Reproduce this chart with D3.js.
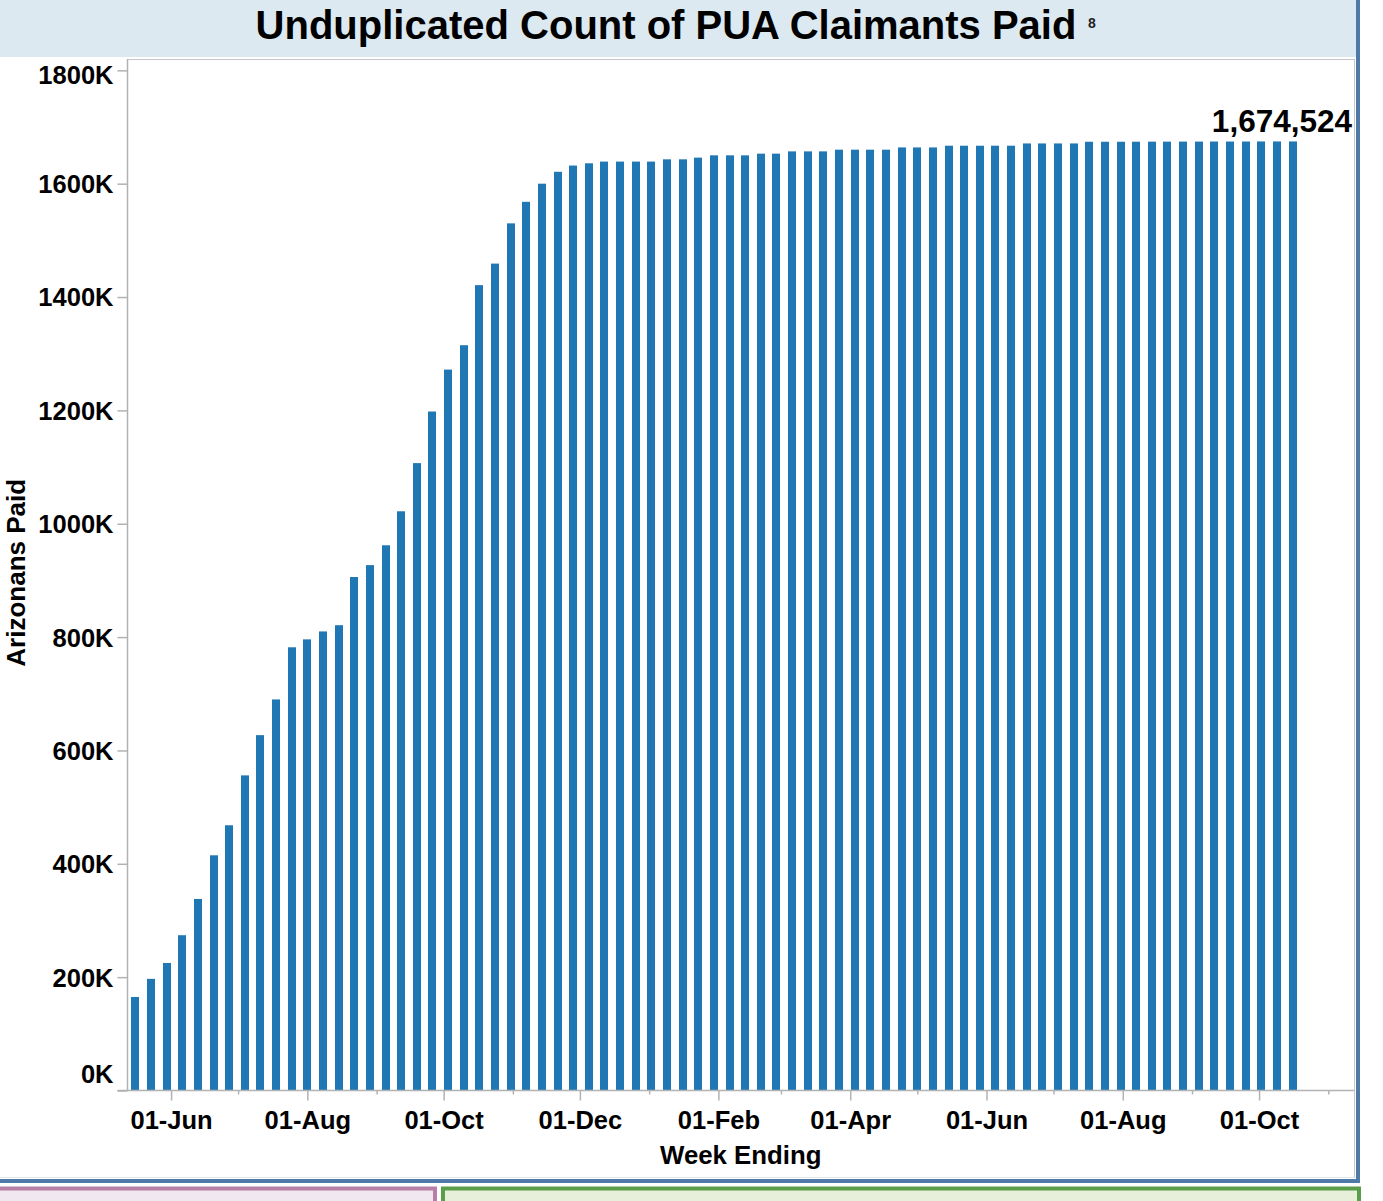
<!DOCTYPE html>
<html>
<head>
<meta charset="utf-8">
<script src="https://cdn.jsdelivr.net/npm/d3@7"></script>
<style>
  html, body { margin: 0; padding: 0; background: #fff; }
  svg { display: block; font-family: "Liberation Sans", Arial, sans-serif; }
</style>
</head>
<body>
<svg id="chart" width="1383" height="1201"></svg>
<script>
// Week-ending dates (Saturdays)
const weekEnding = [
  "2020-05-16","2020-05-23","2020-05-30","2020-06-06","2020-06-13","2020-06-20","2020-06-27",
  "2020-07-04","2020-07-11","2020-07-18","2020-07-25","2020-08-01","2020-08-08","2020-08-15",
  "2020-08-22","2020-08-29","2020-09-05","2020-09-12","2020-09-19","2020-09-26","2020-10-03",
  "2020-10-10","2020-10-17","2020-10-24","2020-10-31","2020-11-07","2020-11-14","2020-11-21",
  "2020-11-28","2020-12-05","2020-12-12","2020-12-19","2020-12-26","2021-01-02","2021-01-09",
  "2021-01-16","2021-01-23","2021-01-30","2021-02-06","2021-02-13","2021-02-20","2021-02-27",
  "2021-03-06","2021-03-13","2021-03-20","2021-03-27","2021-04-03","2021-04-10","2021-04-17",
  "2021-04-24","2021-05-01","2021-05-08","2021-05-15","2021-05-22","2021-05-29","2021-06-05",
  "2021-06-12","2021-06-19","2021-06-26","2021-07-03","2021-07-10","2021-07-17","2021-07-24",
  "2021-07-31","2021-08-07","2021-08-14","2021-08-21","2021-08-28","2021-09-04","2021-09-11",
  "2021-09-18","2021-09-25","2021-10-02","2021-10-09","2021-10-16"
];

// Cumulative unduplicated PUA claimants paid
const claimantsPaid = [
  165000, 197000, 225000, 274000, 338000, 415000, 468000,
  556000, 627000, 690000, 782000, 796000, 810000, 821000,
  906000, 927000, 962000, 1022000, 1107000, 1198000, 1272000,
  1315000, 1421000, 1459000, 1530000, 1568000, 1600000, 1621000,
  1632000, 1636000, 1639000, 1639000, 1639000, 1639000, 1643000,
  1643000, 1646000, 1650000, 1650000, 1650000, 1653000, 1653000,
  1657000, 1657000, 1657000, 1660000, 1660000, 1660000, 1660000,
  1664000, 1664000, 1664000, 1667000, 1667000, 1667000, 1667000,
  1667000, 1671000, 1671000, 1671000, 1671000, 1674000, 1674000,
  1674000, 1674100, 1674200, 1674200, 1674300, 1674300, 1674400,
  1674400, 1674400, 1674500, 1674500, 1674524
];

const yTickValues = [0, 200000, 400000, 600000, 800000, 1000000, 1200000, 1400000, 1600000, 1800000];

const titleText = "Unduplicated Count of PUA Claimants Paid";
const titleNote = "8";
const xTitle = "Week Ending";
const yTitle = "Arizonans Paid";

const parse = d3.utcParse("%Y-%m-%d");
const data = weekEnding.map((d, i) => ({ date: parse(d), value: claimantsPaid[i] }));

const svg = d3.select("#chart");

const plot = { left: 127.5, right: 1354, top: 59, bottom: 1090.5 };
const barColor = "#1f77b4";
const axisGrey = "#b2b2b2";
const labelSize = 25.5;

// ---- sheet background, title band and surrounding dashboard frames ----
svg.append("rect").attr("x", 0).attr("y", 0).attr("width", 1356).attr("height", 57)
  .attr("fill", "#dde9f0");

// pink and green panels peeking in at the bottom
svg.append("rect").attr("x", -2).attr("y", 1188.5).attr("width", 437).attr("height", 20)
  .attr("fill", "#f1e7f0").attr("stroke", "#b57fa6").attr("stroke-width", 4);
svg.append("rect").attr("x", 443).attr("y", 1188.5).attr("width", 916).attr("height", 20)
  .attr("fill", "#e7eed9").attr("stroke", "#5a9e4a").attr("stroke-width", 4);

// outer dashboard border (blue) of this sheet
svg.append("line").attr("x1", 0).attr("x2", 1360).attr("y1", 1177.5).attr("y2", 1177.5)
  .attr("stroke", "#dde5ec").attr("stroke-width", 1);
svg.append("rect").attr("x", 0).attr("y", 1179).attr("width", 1360).attr("height", 4)
  .attr("fill", "#4f79a7");
svg.append("rect").attr("x", 1356).attr("y", 0).attr("width", 4).attr("height", 1183)
  .attr("fill", "#4f79a7");

// ---- scales ----
const x = d3.scaleUtc()
  .domain([new Date(Date.UTC(2020, 4, 12, 12)), new Date(Date.UTC(2021, 10, 12, 12))])
  .range([plot.left, plot.right]);

const y = d3.scaleLinear()
  .domain([0, 1820000])
  .range([plot.bottom, plot.top]);

// ---- plot frame ----
svg.append("line").attr("x1", plot.left).attr("x2", plot.right).attr("y1", plot.top + 0.5).attr("y2", plot.top + 0.5)
  .attr("stroke", "#c4c8cc").attr("stroke-width", 1);
svg.append("line").attr("x1", plot.right + 0.5).attr("x2", plot.right + 0.5).attr("y1", plot.top).attr("y2", 1177)
  .attr("stroke", "#c4c8cc").attr("stroke-width", 1);

// ---- bars ----
const barWidth = 8;
svg.append("g")
  .selectAll("rect")
  .data(data)
  .join("rect")
  .attr("x", d => Math.round(x(d.date) - barWidth / 2))
  .attr("y", d => y(d.value))
  .attr("width", barWidth)
  .attr("height", d => y(0) - y(d.value))
  .attr("fill", barColor);

// ---- y axis ----
const yAxis = d3.axisLeft(y)
  .tickValues(yTickValues)
  .tickSize(10)
  .tickPadding(4)
  .tickFormat(d => (d / 1000) + "K");

const gy = svg.append("g").attr("transform", `translate(${plot.left},0)`).call(yAxis);
gy.select(".domain").attr("stroke", axisGrey).attr("stroke-width", 1.5)
  .attr("d", `M0,${plot.top}V${plot.bottom}`);
gy.selectAll(".tick line").attr("stroke", axisGrey).attr("stroke-width", 1.5);
gy.selectAll(".tick text")
  .attr("fill", "#000")
  .attr("font-size", labelSize)
  .attr("font-weight", "bold")
  .attr("font-family", "'Liberation Sans', Arial, sans-serif")
  .attr("dy", d => d === 0 ? "-0.3em" : d === 1800000 ? "0.5em" : "0.35em");

// ---- x axis ----
const allMonths = d3.utcMonths(x.domain()[0], x.domain()[1]);
const labelMonths = allMonths.filter(d => d.getUTCMonth() % 2 === 1);
const minorMonths = allMonths.filter(d => d.getUTCMonth() % 2 === 0);

const gxMinor = svg.append("g").attr("transform", `translate(0,${plot.bottom})`)
  .call(d3.axisBottom(x).tickValues(minorMonths).tickSize(4).tickFormat(""));
gxMinor.select(".domain").remove();
gxMinor.selectAll(".tick line").attr("stroke", axisGrey).attr("stroke-width", 1.5);

const gx = svg.append("g").attr("transform", `translate(0,${plot.bottom})`)
  .call(d3.axisBottom(x)
    .tickValues(labelMonths)
    .tickSize(10)
    .tickPadding(10)
    .tickFormat(d3.utcFormat("%d-%b")));
gx.select(".domain").attr("stroke", axisGrey).attr("stroke-width", 1.5)
  .attr("d", `M${plot.left - 10},0H${plot.right}`);
gx.selectAll(".tick line").attr("stroke", axisGrey).attr("stroke-width", 1.5);
gx.selectAll(".tick text")
  .attr("fill", "#000")
  .attr("font-size", labelSize)
  .attr("font-weight", "bold")
  .attr("font-family", "'Liberation Sans', Arial, sans-serif");

// ---- axis titles ----
svg.append("text")
  .attr("x", (plot.left + plot.right) / 2)
  .attr("y", 1164)
  .attr("text-anchor", "middle")
  .attr("font-size", 25.8)
  .attr("font-weight", "bold")
  .attr("fill", "#000")
  .text(xTitle);

svg.append("text")
  .attr("transform", `translate(25,${(plot.top + plot.bottom) / 2 - 2}) rotate(-90)`)
  .attr("text-anchor", "middle")
  .attr("font-size", 26)
  .attr("font-weight", "bold")
  .attr("fill", "#000")
  .text(yTitle);

// ---- chart title ----
svg.append("text")
  .attr("x", 666)
  .attr("y", 39)
  .attr("text-anchor", "middle")
  .attr("font-size", 40)
  .attr("font-weight", "bold")
  .attr("fill", "#000")
  .text(titleText);

svg.append("text")
  .attr("x", 1092)
  .attr("y", 28)
  .attr("text-anchor", "middle")
  .attr("font-size", 14)
  .attr("font-weight", "bold")
  .attr("fill", "#222")
  .text(titleNote);

// ---- latest value label ----
const last = data[data.length - 1];
svg.append("text")
  .attr("x", 1352)
  .attr("y", y(last.value) - 9)
  .attr("text-anchor", "end")
  .attr("font-size", 31.5)
  .attr("font-weight", "bold")
  .attr("fill", "#000")
  .text(d3.format(",")(last.value));
</script>
</body>
</html>
